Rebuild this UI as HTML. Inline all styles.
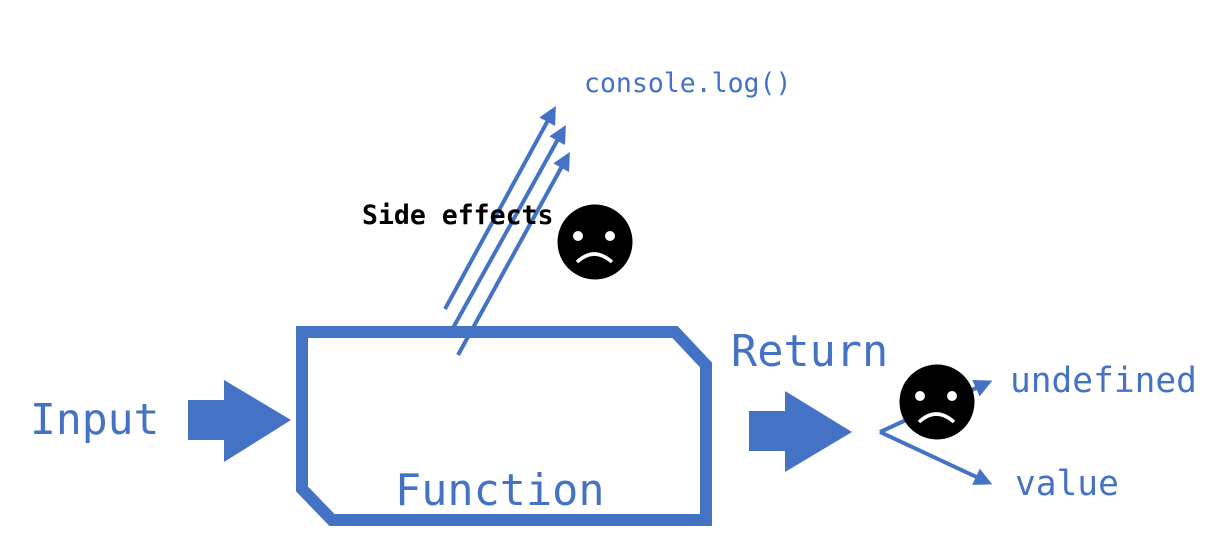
<!DOCTYPE html>
<html><head><meta charset="utf-8"><style>
html,body{margin:0;padding:0;background:#fff;}
svg{display:block;}
text{font-family:"DejaVu Sans Mono","Liberation Mono",monospace;}
</style></head><body>
<svg width="1221" height="557" viewBox="0 0 1221 557" xmlns="http://www.w3.org/2000/svg">
<defs>
<marker id="ah" markerWidth="4.5" markerHeight="4.5" refX="2.5" refY="2.25" orient="auto" markerUnits="strokeWidth">
<path d="M0,0 L4.5,2.25 L0,4.5 z" fill="#4472C4"/>
</marker>
</defs>
<path d="M302,332 L675,332 L706,365 L706,520 L332,520 L302,489 Z" fill="none" stroke="#4472C4" stroke-width="12" stroke-linejoin="miter"/>
<path d="M188,400 L224,400 L224,380 L291,420 L224,462 L224,440 L188,440 Z" fill="#4472C4"/>
<path d="M749,411 L785,411 L785,391 L852,432 L785,472 L785,451 L749,451 Z" fill="#4472C4"/>
<g stroke="#4472C4" stroke-width="4" fill="none">
<line x1="445" y1="309" x2="552" y2="113" marker-end="url(#ah)"/>
<line x1="453" y1="328" x2="562" y2="132" marker-end="url(#ah)"/>
<line x1="458" y1="355" x2="566" y2="159" marker-end="url(#ah)"/>
<line x1="880" y1="432" x2="985" y2="384" marker-end="url(#ah)"/>
<line x1="880" y1="432" x2="985" y2="481" marker-end="url(#ah)"/>
</g>
<circle cx="595" cy="242" r="37.5" fill="#000"/>
<circle cx="578" cy="236" r="5" fill="#fff"/>
<circle cx="610" cy="236" r="5" fill="#fff"/>
<path d="M577,262 Q594,246 612,262" stroke="#fff" stroke-width="3.5" fill="none"/>
<circle cx="937" cy="402" r="37.5" fill="#000"/>
<circle cx="920" cy="396" r="5" fill="#fff"/>
<circle cx="952" cy="396" r="5" fill="#fff"/>
<path d="M919,422 Q936,406 954,422" stroke="#fff" stroke-width="3.5" fill="none"/>
<text x="30" y="434" font-size="43" fill="#4472C4">Input</text>
<text x="395" y="505" font-size="43.5" fill="#4472C4">Function</text>
<text x="731" y="366" font-size="43.5" fill="#4472C4">Return</text>
<text x="1010" y="392" font-size="34.5" fill="#4472C4">undefined</text>
<text x="1015" y="495" font-size="34.5" fill="#4472C4">value</text>
<text x="584" y="92" font-size="26.5" fill="#4472C4">console.log()</text>
<text x="362" y="224" font-size="26.5" font-weight="bold" fill="#000">Side effects</text>
</svg>
</body></html>
